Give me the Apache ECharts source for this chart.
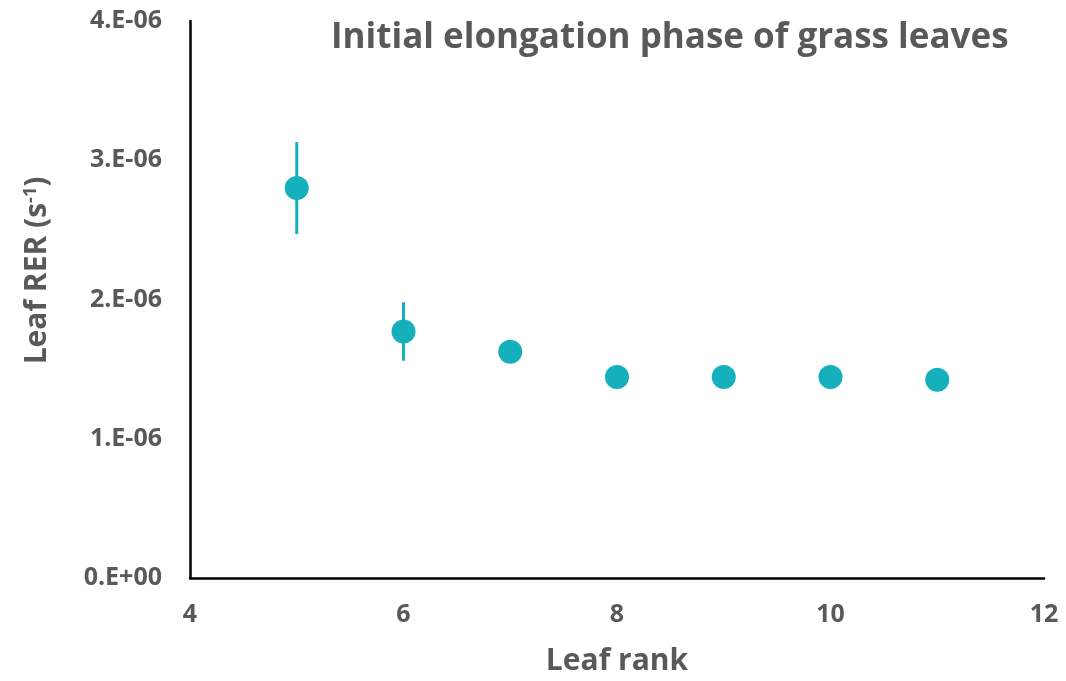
<!DOCTYPE html>
<html>
<head>
<meta charset="utf-8">
<script src="https://cdn.jsdelivr.net/npm/echarts@6/dist/echarts.min.js"></script>
<style>
  html, body { margin: 0; padding: 0; background: #ffffff; }
  #chart { width: 1066px; height: 681px; }
</style>
</head>
<body>
<div id="chart"></div>
<script>
// Leaf relative elongation rate by leaf rank
const leafRank = [5, 6, 7, 8, 9, 10, 11];
const rerMean = [2.80e-6, 1.77e-6, 1.625e-6, 1.443e-6, 1.443e-6, 1.443e-6, 1.424e-6];
const rerErr = [0.33e-6, 0.21e-6, 0, 0, 0, 0, 0];
const yTickLabels = ['0.E+00', '1.E-06', '2.E-06', '3.E-06', '4.E-06'];

const textColor = '#595959';
const markColor = '#15B0BB';
const fontFamily = '"Open Sans", "Noto Sans", sans-serif';

const chart = echarts.init(document.getElementById('chart'));

const points = leafRank.map((r, i) => [r, rerMean[i]]);
const bars = leafRank.map((r, i) => [r, rerMean[i] - rerErr[i], rerMean[i] + rerErr[i]]);

chart.setOption({
  animation: false,
  backgroundColor: '#ffffff',
  title: {
    text: 'Initial elongation phase of grass leaves',
    left: 326,
    top: 16,
    textStyle: { color: textColor, fontSize: 35, fontWeight: 'bold', fontFamily: fontFamily }
  },
  grid: { left: 190, right: 22, top: 21, bottom: 100 },
  xAxis: {
    type: 'value',
    min: 4, max: 12, interval: 2,
    name: 'Leaf rank',
    nameLocation: 'middle',
    nameGap: 68,
    nameTextStyle: { color: textColor, fontSize: 30, fontWeight: 'bold', fontFamily: fontFamily },
    axisLine: { show: true, onZero: false, lineStyle: { color: '#000000', width: 2.5 } },
    axisTick: { show: false },
    splitLine: { show: false },
    axisLabel: { color: textColor, fontSize: 25, fontWeight: 'bold', fontFamily: fontFamily, margin: 24 }
  },
  yAxis: {
    type: 'value',
    min: 0, max: 4e-6, interval: 1e-6,
    name: '{n|Leaf RER (s}{s|-1}{n|)}',
    nameLocation: 'middle',
    nameGap: 138,
    nameRotate: 90,
    nameTextStyle: {
      padding: [0, 0, 0, 58],
      rich: {
        n: { color: textColor, fontSize: 30, fontWeight: 'bold', fontFamily: fontFamily },
        s: { color: textColor, fontSize: 18, fontWeight: 'bold', fontFamily: fontFamily, verticalAlign: 'top', padding: [0, 0, 12, 0] }
      }
    },
    axisLine: { show: true, lineStyle: { color: '#000000', width: 2.5 } },
    axisTick: { show: false },
    splitLine: { show: false },
    axisLabel: {
      color: textColor, fontSize: 25, fontWeight: 'bold', fontFamily: fontFamily, margin: 28,
      formatter: function (v) { return yTickLabels[Math.round(v / 1e-6)]; }
    }
  },
  series: [
    {
      type: 'custom',
      data: bars,
      z: 1,
      renderItem: function (params, api) {
        const x = api.value(0);
        const lo = api.coord([x, api.value(1)]);
        const hi = api.coord([x, api.value(2)]);
        return {
          type: 'line',
          shape: { x1: lo[0], y1: lo[1], x2: hi[0], y2: hi[1] },
          style: { stroke: markColor, lineWidth: 3 }
        };
      }
    },
    {
      type: 'scatter',
      data: points,
      z: 2,
      symbol: 'circle',
      symbolSize: 24,
      itemStyle: { color: markColor, opacity: 1 }
    }
  ]
});
</script>
</body>
</html>
